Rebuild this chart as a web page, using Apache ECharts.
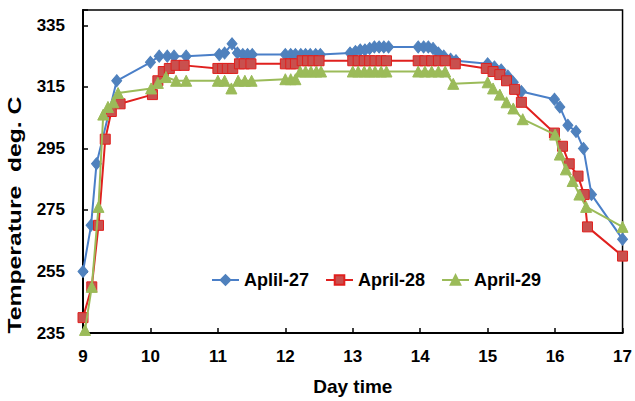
<!DOCTYPE html>
<html>
<head>
<meta charset="utf-8">
<script src="https://cdn.jsdelivr.net/npm/echarts@6/dist/echarts.min.js"></script>
<style>
html,body{margin:0;padding:0;background:#fff;}
#chart{width:635px;height:401px;}
</style>
</head>
<body>
<div id="chart"></div>
<script>
// ---- data ----
const seriesNames = ['Aplil-27', 'April-28', 'April-29'];
const xTicks = [9, 10, 11, 12, 13, 14, 15, 16, 17];
const yTicks = [235, 255, 275, 295, 315, 335];

const time27 = [9.0, 9.12, 9.2, 9.5,
  10.0, 10.13, 10.25, 10.35, 10.53,
  11.02, 11.1, 11.21, 11.29, 11.37, 11.44, 11.51,
  12.0, 12.08, 12.15, 12.23, 12.3, 12.37, 12.45, 12.52,
  12.96, 13.04, 13.11, 13.18, 13.25, 13.32, 13.39, 13.46, 13.53,
  13.97, 14.05, 14.12, 14.19, 14.27, 14.35, 14.45, 14.53,
  15.0, 15.1, 15.2, 15.3, 15.38, 15.5,
  15.99, 16.07, 16.19, 16.31, 16.42, 16.54, 17.0];
const temp27 = [255, 270, 290, 317,
  323, 325, 325, 325, 325,
  325.5, 326, 329, 326, 325.5, 325.5, 325.5,
  325.5, 325.5, 325.5, 325.5, 325.5, 325.5, 325.5, 325.5,
  326, 326.5, 327, 327, 327.5, 328, 328, 328, 328,
  328, 328, 328, 327.5, 326, 325, 324, 323.5,
  322.5, 321.5, 320.5, 318.5, 316.5, 313.5,
  311, 308.5, 302.5, 300.5, 295, 280, 265.5];

const time28 = [9.0, 9.13, 9.23, 9.33, 9.42, 9.55,
  10.03, 10.11, 10.19, 10.28, 10.38, 10.5,
  11.0, 11.07, 11.14, 11.22, 11.32, 11.39, 11.49,
  12.0, 12.08, 12.15, 12.25, 12.33, 12.41, 12.5,
  13.0, 13.08, 13.17, 13.25, 13.33, 13.42, 13.5,
  13.97, 14.07, 14.17, 14.27, 14.37, 14.52,
  14.98, 15.08, 15.18, 15.28, 15.4, 15.5,
  15.99, 16.11, 16.21, 16.34, 16.43, 16.48, 17.0];
const temp28 = [240, 250, 270, 298, 307, 309.5,
  312.5, 317, 320, 321, 322, 322,
  321, 321, 321, 321, 322.5, 322.5, 322.5,
  322.5, 322.5, 322.5, 323.5, 323.5, 323.5, 323.5,
  323.5, 323.5, 323.5, 323.5, 323.5, 323.5, 323.5,
  323.5, 323.5, 323.5, 323.5, 323.5, 322.5,
  321, 320, 319, 317, 314.2, 310,
  300, 295.7, 290, 286, 280, 269.5, 260];

const time29 = [9.03, 9.13, 9.23, 9.3, 9.37, 9.45, 9.52,
  10.01, 10.11, 10.23, 10.38, 10.53,
  11.0, 11.1, 11.2, 11.3, 11.4, 11.5,
  12.0, 12.08, 12.15, 12.22, 12.3, 12.38, 12.46, 12.53,
  13.0, 13.08, 13.17, 13.25, 13.33, 13.42, 13.5,
  13.97, 14.07, 14.17, 14.27, 14.37, 14.49,
  15.0, 15.08, 15.18, 15.28, 15.38, 15.52,
  16.0, 16.07, 16.16, 16.26, 16.36, 16.46, 17.0];
const temp29 = [236, 250, 276, 306, 308.5, 310, 313,
  314.5, 316.3, 318.2, 317, 317,
  317, 317, 314.5, 317, 317, 317,
  317.5, 317.5, 317.5, 320, 320, 320, 320, 320,
  320, 320, 320, 320, 320, 320, 320,
  320, 320, 320, 320, 320, 316,
  316.5, 314.5, 312.5, 310, 308, 304.5,
  299.5, 293, 288.2, 284.4, 280, 276, 269.5];

const xName = 'Day time';
const yName = 'Temperature  deg. C';

// ---- chart ----
const pairs = (ts, vs) => ts.map((t, i) => [t, vs[i]]);
const FONT = "'Liberation Sans', Arial, sans-serif";

const chart = echarts.init(document.getElementById('chart'), null, {renderer: 'svg'});
const styles = [
  {line: '#4a7fc8', fill: '#4f81bd', border: '#4f81bd', symbol: 'diamond', size: [10, 12]},
  {line: '#e0201e', fill: '#c9504e', border: '#e0201e', symbol: 'rect', size: 10},
  {line: '#9bbb59', fill: '#9bbb59', border: '#9bbb59', symbol: 'triangle', size: 11}
];
const datas = [pairs(time27, temp27), pairs(time28, temp28), pairs(time29, temp29)];

chart.setOption({
  animation: false,
  backgroundColor: '#fff',
  grid: {left: 83, right: 10, top: 10, bottom: 64, show: true, borderColor: '#000', borderWidth: 1.5, backgroundColor: 'transparent'},
  legend: {
    left: 206, top: 266, itemWidth: 27, itemHeight: 12, itemGap: 16,
    data: seriesNames,
    textStyle: {fontFamily: FONT, fontSize: 18, fontWeight: 'bold', color: '#000'}
  },
  xAxis: {
    type: 'value', min: xTicks[0], max: xTicks[xTicks.length - 1], interval: 1,
    axisLine: {lineStyle: {color: '#000', width: 2}},
    axisTick: {inside: true, length: 5, lineStyle: {color: '#000', width: 1.5}},
    axisLabel: {margin: 15, fontFamily: FONT, fontSize: 17, fontWeight: 'bold', color: '#000'},
    splitLine: {show: false},
    name: xName, nameLocation: 'middle', nameGap: 44,
    nameTextStyle: {fontFamily: FONT, fontSize: 19, fontWeight: 'bold', color: '#000'}
  },
  yAxis: {
    type: 'value', min: yTicks[0], max: 340, interval: 20,
    axisLine: {lineStyle: {color: '#000', width: 2}},
    axisTick: {inside: true, length: 5, lineStyle: {color: '#000', width: 1.5}},
    axisLabel: {margin: 18, fontFamily: FONT, fontSize: 17, fontWeight: 'bold', color: '#000',
      formatter: v => yTicks.indexOf(v) >= 0 ? String(v) : ''},
    splitLine: {show: false}
  },
  graphic: [{
    type: 'text', x: 15, y: 215, rotation: Math.PI / 2, scaleX: 1.3,
    style: {text: yName, fontFamily: FONT, fontSize: 19, fontWeight: 'bold', fill: '#000',
      align: 'center', verticalAlign: 'middle', textAlign: 'center', textVerticalAlign: 'middle'}
  }],
  series: seriesNames.map((n, i) => ({
    name: n, type: 'line', data: datas[i],
    symbol: styles[i].symbol, symbolSize: styles[i].size,
    lineStyle: {color: styles[i].line, width: 2},
    itemStyle: {color: styles[i].fill, borderColor: styles[i].border, borderWidth: 1},
    z: 2 + i
  }))
});
</script>
</body>
</html>
